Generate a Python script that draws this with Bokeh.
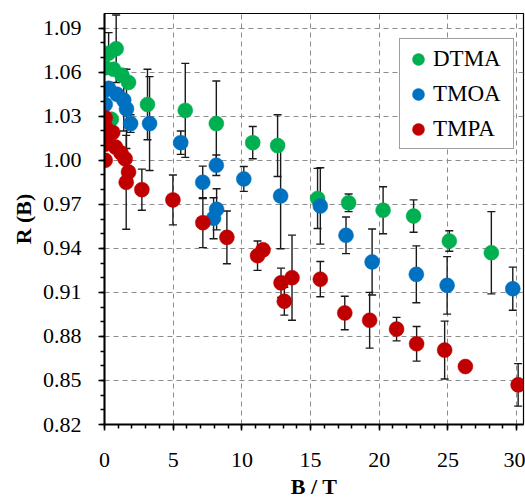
import numpy as np
from bokeh.plotting import figure
from bokeh.models import (Range1d, FixedTicker, PrintfTickFormatter, ColumnDataSource,
                          Whisker, TeeHead, Legend, LegendItem)
from bokeh.embed import file_html
from bokeh.resources import INLINE

# ---------------- data ----------------
x_ticks = [0, 5, 10, 15, 20, 25, 30]
x_minor = list(range(0, 31))
y_ticks = [0.82, 0.85, 0.88, 0.91, 0.94, 0.97, 1.00, 1.03, 1.06, 1.09]
y_labels = ["0.82", "0.85", "0.88", "0.91", "0.94", "0.97", "1.00", "1.03", "1.06", "1.09"]
y_minor = [round(0.82 + 0.01 * i, 2) for i in range(28)]

series_names = ["DTMA", "TMOA", "TMPA"]
series_colors = ["#00B050", "#0070C0", "#C00000"]

dtma_x = [0.5, 0.05, 0.3, 0.66, 0.85, 1.27, 1.75, 3.13, 5.88, 8.14, 10.79, 12.6, 15.51, 17.77, 20.28, 22.5, 25.1, 28.16]
dtma_y = [1.028, 1.063, 1.073, 1.062, 1.076, 1.058, 1.053, 1.038, 1.034, 1.025, 1.012, 1.010, 0.974, 0.971, 0.966, 0.962, 0.945, 0.937]
dtma_e = [0, 0, 0.014, 0, 0.023, 0, 0, 0.024, 0.032, 0.029, 0.011, 0.021, 0.0205, 0.006, 0.016, 0.011, 0.007, 0.028]

tmoa_x = [0.05, 0.05, 0.05, 0.3, 0.9, 1.4, 1.6, 1.9, 3.28, 5.55, 7.15, 7.94, 8.14, 8.16, 10.14, 12.82, 15.71, 17.58, 19.48, 22.7, 24.94, 29.72]
tmoa_y = [1.015, 1.038, 1.048, 1.049, 1.045, 1.041, 1.035, 1.025, 1.025, 1.012, 0.985, 0.9605, 0.9966, 0.9666, 0.9873, 0.9757, 0.9689, 0.9489, 0.9307, 0.9223, 0.9148, 0.9125]
tmoa_e = [0, 0, 0, 0, 0, 0.021, 0.027, 0.006, 0.032, 0.008, 0.011, 0.014, 0.007, 0.014, 0.0085, 0.036, 0.026, 0.0125, 0.0225, 0.0194, 0.0196, 0.0147]

tmpa_x = [0.05, 0.05, 0.05, 0.05, 0.05, 0.6, 0.8, 1.2, 1.5, 1.58, 1.75, 2.72, 4.98, 7.16, 8.91, 11.14, 11.54, 12.85, 13.09, 13.65, 15.71, 17.49, 19.3, 21.26, 22.72, 24.76, 26.27, 30.11]
tmpa_y = [1.000, 1.011, 1.017, 1.023, 1.029, 1.019, 1.009, 1.005, 1.001, 0.985, 0.992, 0.980, 0.973, 0.9575, 0.9475, 0.935, 0.939, 0.9165, 0.904, 0.920, 0.919, 0.896, 0.891, 0.885, 0.875, 0.8707, 0.8595, 0.847]
tmpa_e = [0, 0, 0, 0, 0, 0, 0, 0, 0, 0.032, 0, 0.014, 0.017, 0.017, 0.018, 0.010, 0, 0.010, 0.0095, 0.029, 0.012, 0.0114, 0.019, 0.008, 0.0118, 0.0197, 0, 0.0145]

all_series = [(dtma_x, dtma_y, dtma_e), (tmoa_x, tmoa_y, tmoa_e), (tmpa_x, tmpa_y, tmpa_e)]

FONT = "Liberation Serif, Times New Roman, serif"

# ---------------- figure ----------------
p = figure(frame_width=419, frame_height=411,
           min_border_left=104, min_border_right=2, min_border_top=13, min_border_bottom=77,
           x_range=Range1d(0, 30.5), y_range=Range1d(0.82, 1.10),
           output_backend="svg", toolbar_location=None)

p.outline_line_color = "black"
p.outline_line_width = 1.2
p.background_fill_color = "white"
p.border_fill_color = "white"

# axes
p.xaxis.ticker = FixedTicker(ticks=x_ticks, minor_ticks=x_minor)
p.yaxis.ticker = FixedTicker(ticks=y_ticks, minor_ticks=y_minor)
p.yaxis.formatter = PrintfTickFormatter(format="%.2f")
p.yaxis.major_label_overrides = dict(zip(y_ticks, y_labels))

for ax in (p.xaxis[0], p.yaxis[0]):
    ax.axis_line_color = "black"
    ax.axis_line_width = 2
    ax.major_tick_line_color = "black"
    ax.minor_tick_line_color = "black"
    ax.major_tick_line_width = 1.5
    ax.minor_tick_line_width = 1.5
    ax.major_tick_in = 0
    ax.major_tick_out = 6
    ax.minor_tick_in = 0
    ax.minor_tick_out = 4
    ax.major_label_text_font = FONT
    ax.major_label_text_font_size = "22px"
    ax.major_label_text_color = "black"
    ax.axis_label_text_font = FONT
    ax.axis_label_text_font_size = "22px"
    ax.axis_label_text_color = "black"
    ax.axis_label_text_font_style = "bold"
p.xaxis.major_label_standoff = 22
p.yaxis.major_label_standoff = 17
p.xaxis.axis_label = "B / T"
p.yaxis.axis_label = "R (B)"
p.xaxis.axis_label_standoff = 4
p.yaxis.axis_label_standoff = 4

# grid
for g in (p.xgrid[0], p.ygrid[0]):
    g.grid_line_color = "#8c8c8c"
    g.grid_line_dash = "5 4"
    g.grid_line_width = 1
p.xgrid.ticker = FixedTicker(ticks=x_ticks)
p.ygrid.ticker = FixedTicker(ticks=y_ticks)

# error bars
for (xs, ys, es) in all_series:
    xe = [x for x, e in zip(xs, es) if e > 0]
    up = [y + e for y, e in zip(ys, es) if e > 0]
    lo = [y - e for y, e in zip(ys, es) if e > 0]
    src = ColumnDataSource(dict(base=xe, upper=up, lower=lo))
    w = Whisker(base="base", upper="upper", lower="lower", source=src, dimension="height",
                line_color="#1a1a1a", line_width=1.4,
                upper_head=TeeHead(size=8, line_color="#1a1a1a", line_width=1.4),
                lower_head=TeeHead(size=8, line_color="#1a1a1a", line_width=1.4))
    p.add_layout(w)

# markers
renderers = []
for (xs, ys, es), c in zip(all_series, series_colors):
    r = p.scatter(xs, ys, size=15, fill_color=c, line_color=c, line_width=0.5)
    renderers.append(r)

legend = Legend(items=[LegendItem(label=n, renderers=[r]) for n, r in zip(series_names, renderers)],
                location=(295, 275), orientation="vertical",
                glyph_width=30, glyph_height=30, label_height=33, label_width=77,
                padding=3, spacing=2, label_standoff=0, margin=0,
                label_text_font=FONT, label_text_font_size="23px", label_text_color="black",
                border_line_color="#404040", border_line_width=1,
                background_fill_color="white", background_fill_alpha=1.0)
p.add_layout(legend)

open("out.html", "w").write(file_html(p, INLINE))
